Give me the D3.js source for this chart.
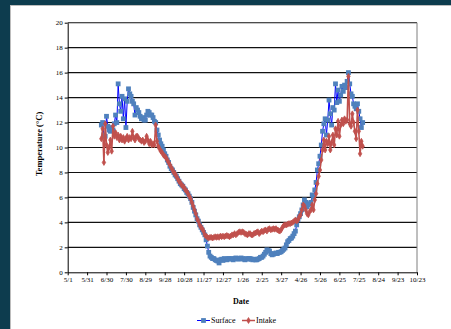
<!DOCTYPE html>
<html>
<head>
<meta charset="utf-8">
<script src="https://cdn.jsdelivr.net/npm/d3@7"></script>
<style>
  body { margin: 0; background: #0d3c4e; }
  svg { display: block; }
  text { font-family: "Liberation Serif", "Times New Roman", serif; fill: #000; }
</style>
</head>
<body>
<svg id="chart" width="451" height="329"></svg>
<script>
// Daily-sampled water temperatures (°C), one reading every 2 days from seriesStart
const seriesStart = "2010-06-22";
const stepDays = 2;

const surfaceTemps = [
  11.8, 12.0, 11.0, 10.9, 12.5, 11.7, 11.4, 11.3, 11.6, 11.4,
  11.9, 12.6, 12.0, 15.1, 13.5, 12.9, 14.1, 12.3, 13.9, 11.6,
  13.7, 14.7, 14.3, 14.1, 13.7, 13.5, 12.6, 13.2, 13.0, 12.8,
  12.5, 12.3, 12.4, 12.2, 12.2, 12.6, 12.9, 12.8, 12.6, 12.6,
  12.4, 12.1, 12.0, 11.4, 11.0, 10.6, 10.3, 10.1, 9.8, 9.5,
  9.3, 9.0, 8.8, 8.5, 8.3, 8.2, 8.0, 7.8, 7.7, 7.5,
  7.3, 7.1, 7.0, 6.9, 6.7, 6.6, 6.4, 6.3, 6.1, 5.9,
  5.6, 5.2, 4.9, 4.6, 4.3, 4.1, 3.8, 3.6, 3.4, 3.2,
  3.0, 2.6, 2.1, 1.6, 1.3, 1.2, 1.1, 1.1, 1.0, 0.95,
  0.9, 0.75, 1.0, 1.05, 0.95, 1.1, 1.05, 1.0, 1.1, 1.1,
  1.05, 1.1, 1.0, 1.1, 1.15, 1.1, 1.05, 1.1, 1.15, 1.1,
  1.05, 1.0, 1.1, 1.05, 1.1, 1.1, 1.05, 1.0, 1.05, 1.0,
  1.0, 1.05, 1.1, 1.2, 1.2, 1.3, 1.45, 1.6, 1.8, 1.75,
  1.7, 1.5, 1.4, 1.45, 1.5, 1.55, 1.5, 1.6, 1.6, 1.65,
  1.75, 1.85, 1.95, 2.2, 2.45, 2.55, 2.7, 2.75, 2.9, 3.1,
  3.3, 3.8, 4.2, 4.45, 4.7, 5.0, 5.4, 5.8, 5.6, 5.25,
  5.4, 5.5, 5.6, 6.2, 6.0, 6.6, 7.2, 8.2, 8.7, 9.3,
  10.2, 11.3, 11.9, 12.3, 11.0, 12.2, 13.8, 12.7, 11.8, 13.2,
  13.0, 15.1, 13.6, 14.6, 13.7, 14.2, 14.9, 14.5, 15.0, 14.8,
  15.3, 16.0, 15.1, 14.3, 14.1, 13.5, 13.3, 13.1, 13.5, 12.9,
  12.3, 11.6, 12.0
];

const intakeTemps = [
  10.7, 11.5, 8.8, 11.9, 10.2, 9.6, 10.0, 10.6, 9.7, 11.7,
  10.9, 11.2, 10.8, 11.0, 10.6, 10.9, 10.6, 10.8, 10.5, 10.7,
  10.9, 10.6, 10.8, 10.7, 11.3, 10.8, 10.6, 10.9, 10.9, 10.7,
  10.6, 10.5, 10.6, 10.4, 10.5, 10.9, 10.6, 10.3, 10.5, 10.2,
  10.3, 10.2, 11.8, 10.5, 10.1, 9.9, 9.7, 9.6, 9.4, 9.3,
  9.2, 9.0, 8.8, 8.6, 8.4, 8.2, 8.0, 7.9, 7.7, 7.5,
  7.3, 7.2, 7.0, 6.9, 6.8, 6.6, 6.5, 6.3, 6.1, 5.9,
  5.6, 5.3, 5.0, 4.7, 4.3, 4.1, 3.8, 3.6, 3.5, 3.3,
  3.0, 2.9, 2.8, 2.75, 2.8, 2.8, 2.75, 2.8, 2.85, 2.8,
  2.85, 2.8, 2.9, 2.85, 2.9, 2.85, 2.9, 2.95, 2.9, 2.85,
  2.9, 3.0, 3.0, 3.1, 3.0, 3.1, 3.2, 3.25, 3.2, 3.25,
  3.2, 3.1, 3.05, 3.0, 3.1, 3.1, 3.0, 3.0, 3.1, 3.15,
  3.2, 3.25, 3.1, 3.2, 3.3, 3.25, 3.35, 3.4, 3.3, 3.45,
  3.5, 3.4, 3.45, 3.5, 3.45, 3.5, 3.4, 3.35, 3.3, 3.4,
  3.6, 3.75, 3.8, 3.8, 3.85, 3.9, 3.9, 3.95, 4.0, 4.1,
  4.2, 4.1, 4.2, 4.45, 4.6, 5.0, 5.4, 5.3, 5.0, 4.7,
  4.6, 4.85, 5.0, 5.4, 5.0, 5.8, 6.3, 7.1, 7.7, 8.2,
  9.0, 9.8, 10.6, 9.8, 10.5, 10.3, 10.9, 9.8, 10.4, 11.0,
  10.2, 11.5, 11.0, 12.1, 10.9, 11.8, 12.2, 11.9, 12.3, 12.1,
  12.2, 15.7, 11.9, 11.7, 12.7, 12.0, 11.3, 10.7, 13.0, 11.3,
  9.5, 10.5, 10.1
];

const yTickValues = [0, 2, 4, 6, 8, 10, 12, 14, 16, 18, 20];
const xTickDates = [
  "2010-05-01", "2010-05-31", "2010-06-30", "2010-07-30", "2010-08-29",
  "2010-09-28", "2010-10-28", "2010-11-27", "2010-12-27", "2011-01-26",
  "2011-02-25", "2011-03-27", "2011-04-26", "2011-05-26", "2011-06-25",
  "2011-07-25", "2011-08-24", "2011-09-23", "2011-10-23"
];
const seriesNames = ["Surface", "Intake"];

const parse = d3.timeParse("%Y-%m-%d");
const start = parse(seriesStart);
const toPoints = vals => vals.map((v, i) => ({ date: d3.timeDay.offset(start, i * stepDays), v }));
const surface = toPoints(surfaceTemps);
const intake = toPoints(intakeTemps);
const tickDates = xTickDates.map(parse);

const svg = d3.select("#chart");

// white page panel on the dark backdrop
svg.append("rect").attr("x", 10.5).attr("y", 5.5).attr("width", 445).attr("height", 330)
  .attr("fill", "#fff").attr("stroke", "#bdbdbd").attr("stroke-width", 1);

const plot = { left: 67.7, right: 417, top: 22.7, bottom: 272.3 };
const x = d3.scaleTime().domain([tickDates[0], tickDates[tickDates.length - 1]]).range([plot.left, plot.right]);
const y = d3.scaleLinear().domain([0, 20]).range([plot.bottom, plot.top]);

// horizontal gridlines
svg.append("g").selectAll("line").data(yTickValues.filter(v => v > 0)).join("line")
  .attr("x1", plot.left).attr("x2", plot.right)
  .attr("y1", d => y(d)).attr("y2", d => y(d))
  .attr("stroke", "#111").attr("stroke-width", 1.1);

// right frame edge
svg.append("line").attr("x1", plot.right).attr("x2", plot.right)
  .attr("y1", plot.top).attr("y2", plot.bottom)
  .attr("stroke", "#7f7f7f").attr("stroke-width", 1);

// axes
const yAxis = svg.append("g").attr("transform", `translate(${plot.left},0)`)
  .call(d3.axisLeft(y).tickValues(yTickValues).tickSize(3).tickSizeOuter(0).tickPadding(2).tickFormat(d3.format("d")));
const xAxis = svg.append("g").attr("transform", `translate(0,${plot.bottom})`)
  .call(d3.axisBottom(x).tickValues(tickDates).tickSize(3).tickSizeOuter(0).tickPadding(2).tickFormat(d3.timeFormat("%-m/%-d")));
[yAxis, xAxis].forEach(a => {
  a.selectAll("text").attr("font-size", 7).attr("font-family", "Liberation Serif, serif").attr("fill", "#000");
  a.selectAll("line").attr("stroke", "#000");
  a.select(".domain").attr("stroke", "#000").attr("stroke-width", 1);
});

// axis titles
svg.append("text").attr("x", 241).attr("y", 304).attr("text-anchor", "middle")
  .attr("font-size", 8).attr("font-weight", "bold").text("Date");
svg.append("text").attr("transform", "translate(42,144) rotate(-90)").attr("text-anchor", "middle")
  .attr("font-size", 8.5).attr("font-weight", "bold").text("Temperature (\u00B0C)");

const line = d3.line().x(d => x(d.date)).y(d => y(d.v));
const diamond = d3.symbol().type(d3.symbolDiamond).size(10);

// Surface series: blue line with square markers
svg.append("path").datum(surface).attr("d", line)
  .attr("fill", "none").attr("stroke", "#0000ff").attr("stroke-width", 1);
svg.append("g").selectAll("rect").data(surface).join("rect")
  .attr("x", d => x(d.date) - 2.4).attr("y", d => y(d.v) - 2.4)
  .attr("width", 4.8).attr("height", 4.8).attr("fill", "#4f81bd");

// Intake series: red line with small diamond markers
svg.append("path").datum(intake).attr("d", line)
  .attr("fill", "none").attr("stroke", "#c0504d").attr("stroke-width", 1.6);
svg.append("g").selectAll("path").data(intake).join("path")
  .attr("transform", d => `translate(${x(d.date)},${y(d.v)})`)
  .attr("d", diamond).attr("fill", "#c0504d").attr("stroke", "#c0504d").attr("stroke-width", 0.8);

// legend
const legend = svg.append("g").attr("transform", "translate(0,320.5)");
const legendItems = [
  { name: seriesNames[0], x0: 197, lineColor: "#0000ff", marker: "square", fill: "#4f81bd", w: 1 },
  { name: seriesNames[1], x0: 242, lineColor: "#c0504d", marker: "diamond", fill: "#c0504d", w: 1.5 }
];
legendItems.forEach(it => {
  legend.append("line").attr("x1", it.x0).attr("x2", it.x0 + 13).attr("y1", 0).attr("y2", 0)
    .attr("stroke", it.lineColor).attr("stroke-width", it.w);
  if (it.marker === "square") {
    legend.append("rect").attr("x", it.x0 + 6.5 - 2.4).attr("y", -2.4).attr("width", 4.8).attr("height", 4.8).attr("fill", it.fill);
  } else {
    legend.append("path").attr("transform", `translate(${it.x0 + 6.5},0)`).attr("d", diamond)
      .attr("fill", it.fill).attr("stroke", it.fill).attr("stroke-width", 0.8);
  }
  legend.append("text").attr("x", it.x0 + 14).attr("y", 2.8).attr("font-size", 8).text(it.name);
});
</script>
</body>
</html>
